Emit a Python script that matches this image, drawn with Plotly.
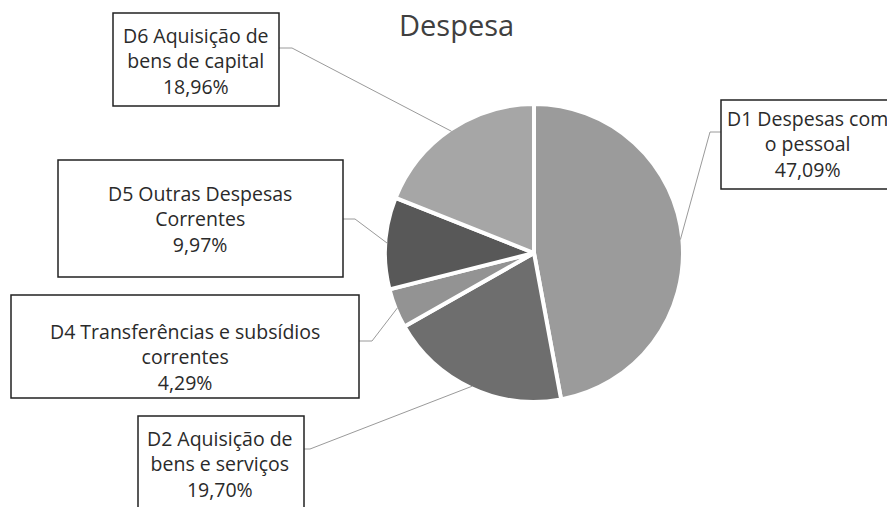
import math
import plotly.graph_objects as go

# ---- data ----
categories = ["D1 Despesas com<br>o pessoal",
              "D2 Aquisição de<br>bens e serviços",
              "D4 Transferências e subsídios<br>correntes",
              "D5 Outras Despesas<br>Correntes",
              "D6 Aquisição de<br>bens de capital"]
values = [47.09, 19.70, 4.29, 9.97, 18.96]
value_labels = ["47,09%", "19,70%", "4,29%", "9,97%", "18,96%"]
colors = ["#9b9b9b", "#6e6e6e", "#939393", "#585858", "#a6a6a6"]
title = "Despesa"

OFF = 8  # page body margin offset
W, H = 895 - OFF, 507 - OFF
CX, CY, R = 534, 253, 149  # pie centre/radius in screen pixels (from top-left)

# label box layout (screen pixels): box x0,x1,y0,y1 ; text centre ; leader start and elbow
boxes = [
    dict(box=(721, 905, 100, 189), text=(807, 144), start=(721, 132), elbow=(710, 132)),
    dict(box=(138, 304, 416, 530), text=(220, 464), start=(304, 449), elbow=(310, 449)),
    dict(box=(11, 359, 295, 398), text=(185, 357), start=(359, 341), elbow=(372, 341)),
    dict(box=(58, 343, 160, 277), text=(200, 219), start=(343, 219), elbow=(355, 219)),
    dict(box=(113, 279, 13, 106), text=(196, 61), start=(279, 48), elbow=(292, 48)),
]

def px(x):
    return (x - OFF) / W

def py(y):
    return 1 - (y - OFF) / H

fig = go.Figure(go.Pie(
    labels=[c.replace("<br>", " ") for c in categories],
    values=values,
    sort=False,
    direction="clockwise",
    rotation=0,
    textinfo="none",
    hoverinfo="label+percent",
    marker=dict(colors=colors, line=dict(color="white", width=4)),
    domain=dict(x=[px(CX - R), px(CX + R)], y=[py(CY + R), py(CY - R)]),
    showlegend=False,
))

shapes = []
annotations = []
total = sum(values)
cum = 0.0
for cat, v, lab, b in zip(categories, values, value_labels, boxes):
    mid = (cum + v / 2) / total * 2 * math.pi
    cum += v
    ex = CX + (R - 2) * math.sin(mid)
    ey = CY - (R - 2) * math.cos(mid)
    sx, sy = b["start"]
    kx, ky = b["elbow"]
    shapes.append(dict(type="path", xref="paper", yref="paper",
                       path=f"M {px(sx)} {py(sy)} L {px(kx)} {py(ky)} L {px(ex)} {py(ey)}",
                       line=dict(color="#9a9a9a", width=1)))
    x0, x1, y0, y1 = b["box"]
    shapes.append(dict(type="rect", xref="paper", yref="paper",
                       x0=px(x0), x1=px(x1), y0=py(y1), y1=py(y0),
                       line=dict(color="#222222", width=1.5), fillcolor="rgba(0,0,0,0)"))
    tx, ty = b["text"]
    annotations.append(dict(x=px(tx), y=py(ty), xref="paper", yref="paper",
                            xanchor="center", yanchor="middle", showarrow=False,
                            text=f"{cat}<br>{lab}", align="center",
                            font=dict(family="Open Sans", size=19.5, color="#2a2a2a")))

annotations.append(dict(x=px(457), y=py(24), xref="paper", yref="paper",
                        xanchor="center", yanchor="middle", showarrow=False,
                        text=title, font=dict(family="Open Sans", size=29, color="#404040")))

fig.update_layout(width=W, height=H, margin=dict(l=0, r=0, t=0, b=0),
                  paper_bgcolor="white", plot_bgcolor="white",
                  shapes=shapes, annotations=annotations)

fig.write_html("out.html")
